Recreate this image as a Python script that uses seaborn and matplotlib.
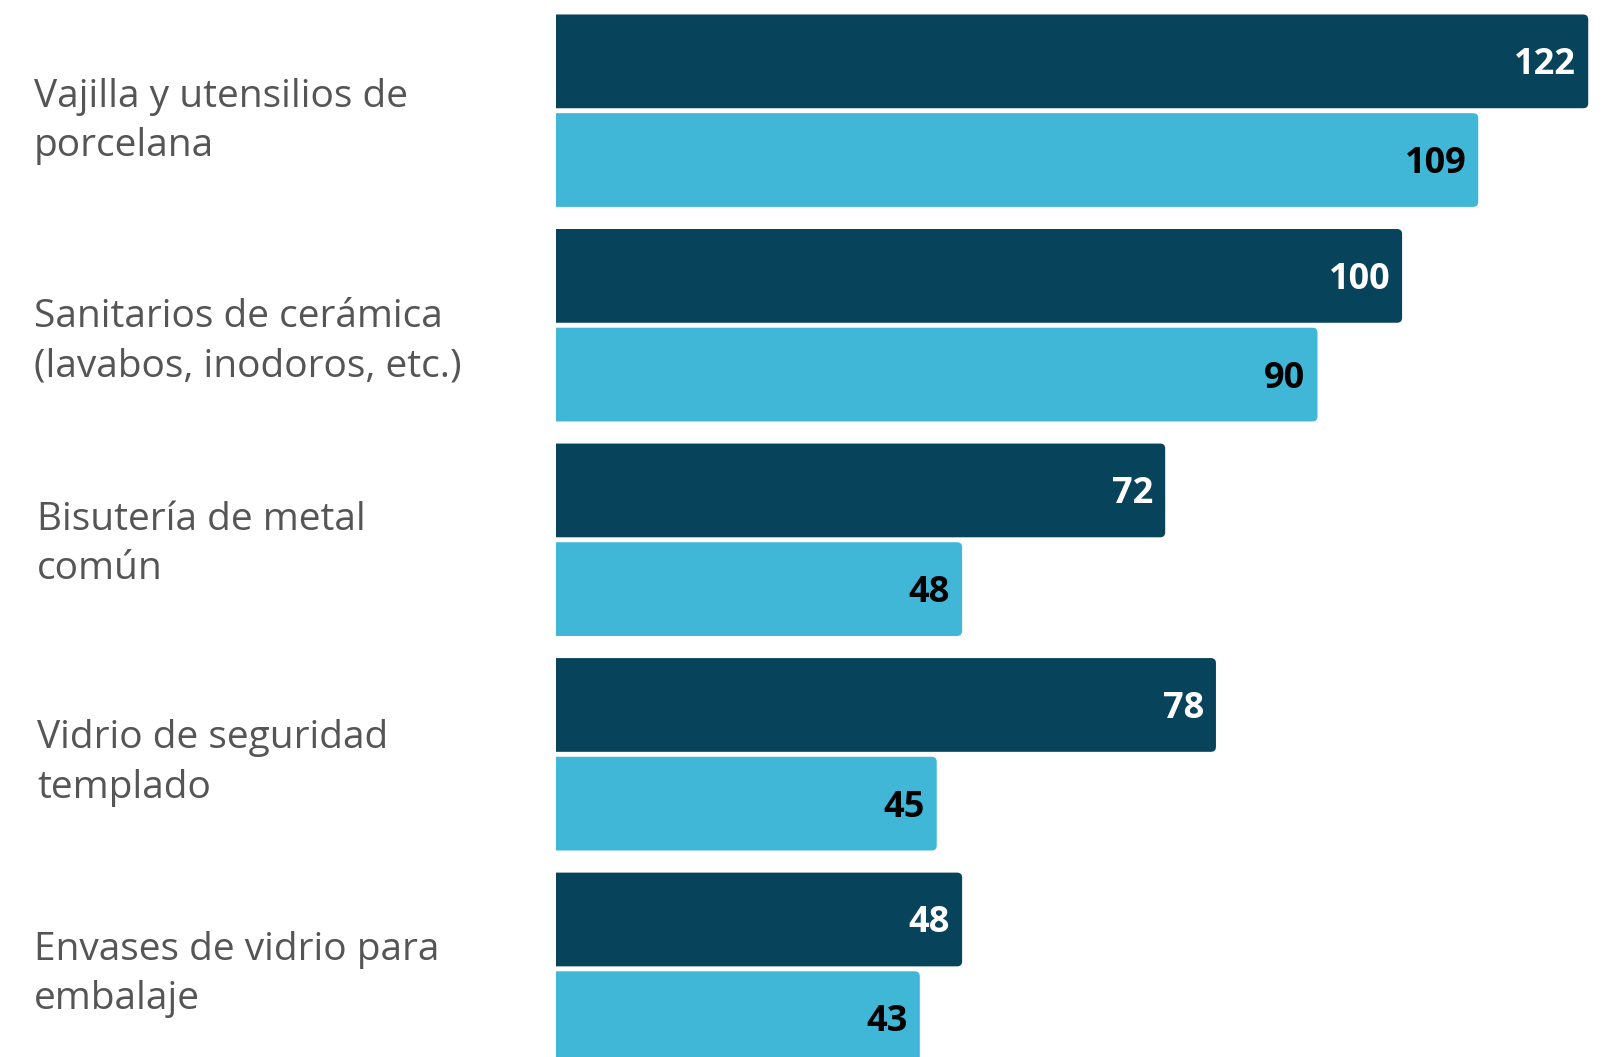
import pandas as pd
import seaborn as sns
import matplotlib.pyplot as plt
from matplotlib.patches import FancyBboxPatch
from matplotlib.transforms import blended_transform_factory

# chart values
categories = [
    'Vajilla y utensilios de\nporcelana',
    'Sanitarios de cerámica\n(lavabos, inodoros, etc.)',
    'Bisutería de metal\ncomún',
    'Vidrio de seguridad\ntemplado',
    'Envases de vidrio para\nembalaje',
]
series_names = ['Serie 1', 'Serie 2']
serie_1 = [122, 100, 72, 78, 48]
serie_2 = [109, 90, 48, 45, 43]

dark = '#07445C'
light = '#41B7D7'

data = pd.DataFrame({
    'categoria': categories * 2,
    'serie': [series_names[0]] * len(categories) + [series_names[1]] * len(categories),
    'valor': serie_1 + serie_2,
})

sns.set_style('white')
plt.rcParams['font.family'] = ['Open Sans', 'DejaVu Sans']

fig = plt.figure(figsize=(16.06, 10.57), dpi=100)
ax = fig.add_axes([556 / 1606, 0, 1 - 556 / 1606, 1])

sns.barplot(data=data, y='categoria', x='valor', hue='serie', orient='h',
            palette=[dark, light], saturation=1, width=0.92, gap=0.05,
            legend=False, ax=ax)

ax.set_xlim(0, 124.1)
ax.set_ylim(4.411, -0.516)

# round the bar ends (left side hides behind the axis edge)
for cont in ax.containers:
    for p in cont.patches:
        x0, y0, w, h = p.get_x(), p.get_y(), p.get_width(), p.get_height()
        rp = FancyBboxPatch((x0 - 2, y0), w + 2, h,
                            boxstyle='round,pad=0,rounding_size=0.6',
                            mutation_aspect=0.039,
                            facecolor=p.get_facecolor(), edgecolor='none')
        p.set_visible(False)
        ax.add_patch(rp)

# value labels at the end of each bar
for cont, txt_color in zip(ax.containers, ['white', 'black']):
    for p in cont.patches:
        v = p.get_width()
        ax.annotate(f'{v:.0f}', xy=(v, p.get_y() + p.get_height() / 2),
                    xytext=(-12, -4), textcoords='offset pixels',
                    ha='right', va='center', fontsize=26, fontweight='bold',
                    color=txt_color)

# category labels on the left (small hand nudges as in the original layout)
trans = blended_transform_factory(fig.transFigure, ax.transData)
nudge_y = [0.05, 0.075, 0.022, 0.04, 0.027]
nudge_x = [34, 34, 37, 37, 34]
for i, cat in enumerate(categories):
    ax.text(nudge_x[i] / 1606, i + nudge_y[i], cat, transform=trans,
            ha='left', va='center', fontsize=28, color='#555555',
            linespacing=1.4)

ax.set_yticks([])
ax.set_xticks([])
ax.set_xlabel('')
ax.set_ylabel('')
sns.despine(ax=ax, left=True, bottom=True)

fig.savefig('out.png', dpi=100)
